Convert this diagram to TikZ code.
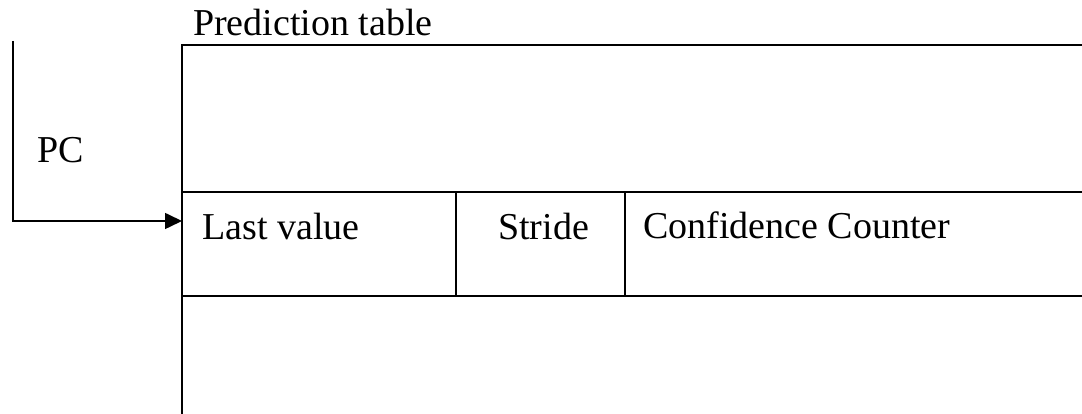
\documentclass[tikz,border=0pt]{standalone}
\usepackage{fontspec}
\setmainfont{Liberation Serif}
\usetikzlibrary{arrows.meta}
\tikzset{
  rule/.style={draw=black,line width=1.6pt},
  arr/.style={rule,-{Triangle[length=17pt,width=16pt]}},
  lbl/.style={font=\fontsize{38}{40}\selectfont,inner sep=0pt,anchor=base west},
}
\begin{document}
\begin{tikzpicture}[x=1pt,y=1pt]
  \useasboundingbox (0,0) rectangle (1082,414);
  % table: open on the right and at the bottom
  \draw[rule] (1082,369) -- (182,369) -- (182,0);
  \draw[rule] (182,222) -- (1082,222);
  \draw[rule] (182,118) -- (1082,118);
  \draw[rule] (456,222) -- (456,118);
  \draw[rule] (625,222) -- (625,118);
  % PC indexes one entry
  \coordinate (pcin) at (13,373);
  \coordinate (entry) at (182,193);
  \draw[arr] (pcin) |- (entry);
  \node[lbl] (title) at (193,378) {Prediction table};
  \node[lbl] (pc) at (37,251) {PC};
  \node[lbl] (last) at (202,174) {Last value};
  \node[lbl] (stride) at (498,174) {Stride};
  \node[lbl] (conf) at (643,175) {Confidence Counter};
\end{tikzpicture}
\end{document}
